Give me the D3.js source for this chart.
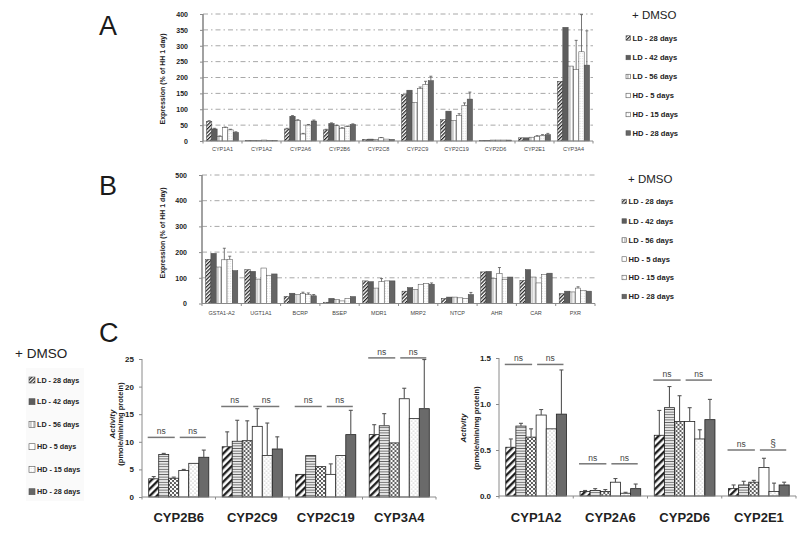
<!DOCTYPE html>
<html><head><meta charset="utf-8">
<script src="https://cdn.jsdelivr.net/npm/d3@7"></script>
<style>body{margin:0;background:#fff}svg{display:block}text{font-family:"Liberation Sans",Arial,sans-serif}</style>
</head><body><svg id="c" width="800" height="535"></svg>
<script>
// ---------------- DATA ----------------
const seriesNames = ["LD - 28 days","LD - 42 days","LD - 56 days","HD - 5 days","HD - 15 days","HD - 28 days"];

const genesA = ["CYP1A1","CYP1A2","CYP2A6","CYP2B6","CYP2C8","CYP2C9","CYP2C19","CYP2D6","CYP2E1","CYP3A4"];
const exprA = [
  [62,38,15,42,35,27],
  [2,1,1,3,2,1],
  [38,78,65,22,50,63],
  [35,55,48,40,45,52],
  [5,6,5,10,6,5],
  [146,160,122,165,178,190],
  [67,94,65,81,112,132],
  [2,2,3,3,3,3],
  [10,10,12,15,18,20],
  [188,358,236,225,281,239]
];
const errA = [
  [2,2,1,2,2,2],
  [0,0,0,0,0,0],
  [2,2,2,2,2,3],
  [2,2,2,2,2,2],
  [0,0,0,1,0,0],
  [0,0,0,5,10,14],
  [0,0,0,5,8,22],
  [0,0,0,0,0,0],
  [0,0,0,2,2,4],
  [0,0,0,92,117,108]
];
const ticksA = [0,50,100,150,200,250,300,350,400];

const genesB = ["GSTA1-A2","UGT1A1","BCRP","BSEP","MDR1","MRP2","NTCP","AHR","CAR","PXR"];
const exprB = [
  [172,195,142,170,172,128],
  [132,125,95,138,110,115],
  [28,40,35,38,35,30],
  [5,20,15,10,20,27],
  [88,85,60,85,88,88],
  [48,62,55,75,78,75],
  [20,25,25,22,20,35],
  [123,125,98,117,93,103],
  [90,132,103,80,113,118],
  [38,48,45,60,51,48]
];
const errB = [
  [0,0,0,45,12,0],
  [0,0,0,0,0,0],
  [0,0,0,6,6,5],
  [0,0,0,0,0,0],
  [0,0,0,12,0,0],
  [0,0,0,0,0,5],
  [0,0,0,0,0,8],
  [0,0,0,23,0,0],
  [0,0,0,0,0,0],
  [0,0,0,5,0,0]
];
const ticksB = [0,100,200,300,400,500];

const enzymesCL = ["CYP2B6","CYP2C9","CYP2C19","CYP3A4"];
const activityCL = [
  [3.3,7.7,3.4,4.8,6.1,7.2],
  [9.1,10.1,10.2,12.8,7.5,8.7],
  [4.1,7.5,5.5,4.1,7.5,11.3],
  [11.3,12.9,9.8,17.8,14.2,16.0]
];
const errCL = [
  [0.4,0.2,0.2,0.2,0,1.3],
  [2.7,3.8,3.6,3.2,5.9,2.2],
  [0,0,0,1.9,0,4.4],
  [1.8,2.2,0,1.9,0,8.9]
];
const ticksCL = [0,5,10,15,20,25];
const nsLevelCL = [10.8,16.4,16.4,25.2];
const nsTextCL = [["ns","ns"],["ns","ns"],["ns","ns"],["ns","ns"]];

const enzymesCR = ["CYP1A2","CYP2A6","CYP2D6","CYP2E1"];
const activityCR = [
  [0.53,0.76,0.64,0.88,0.73,0.89],
  [0.05,0.06,0.05,0.15,0.03,0.08],
  [0.66,0.96,0.81,0.81,0.62,0.83],
  [0.08,0.12,0.15,0.31,0.05,0.12]
];
const errCR = [
  [0.09,0.03,0.09,0.06,0,0.48],
  [0.01,0.02,0.02,0.04,0.01,0.05],
  [0.27,0.23,0.28,0.15,0.10,0.22],
  [0.04,0.04,0.02,0.10,0.09,0.03]
];
const ticksCR = [0,0.5,1.0,1.5];
const nsLevelCR = [1.43,0.35,1.26,0.50];
const nsTextCR = [["ns","ns"],["ns","ns"],["ns","ns"],["ns","§"]];

// ---------------- DRAW ----------------
const svg = d3.select("#c");
const defs = svg.append("defs");
function pat(id, w, h, build, tr){
  const p = defs.append("pattern").attr("id",id).attr("patternUnits","userSpaceOnUse")
    .attr("width",w).attr("height",h);
  if(tr) p.attr("patternTransform",tr);
  build(p, w, h);
}
const bg = (p,w,h,c)=>p.append("rect").attr("width",w).attr("height",h).attr("fill",c);
// small patterns
pat("sHatch",2.6,2.6,(p,w,h)=>{bg(p,w,h,"#fff");p.append("line").attr("x1",0.6).attr("x2",0.6).attr("y1",0).attr("y2",h).attr("stroke","#222").attr("stroke-width",1.3);},"rotate(45)");
pat("sDark",2,2,(p,w,h)=>{bg(p,w,h,"#4f4f4f");p.append("line").attr("x1",0).attr("x2",w).attr("y1",1).attr("y2",1).attr("stroke","#7d7d7d").attr("stroke-width",0.6);});
pat("sDash",3,2,(p,w,h)=>{bg(p,w,h,"#fff");p.append("line").attr("x1",0).attr("x2",1.8).attr("y1",1).attr("y2",1).attr("stroke","#777").attr("stroke-width",0.8);});
pat("sDots",2.5,2.5,(p,w,h)=>{bg(p,w,h,"#fff");p.append("circle").attr("cx",1).attr("cy",1).attr("r",0.4).attr("fill","#999");});
// large patterns
pat("lHatch",5,5,(p,w,h)=>{bg(p,w,h,"#fff");p.append("line").attr("x1",1.2).attr("x2",1.2).attr("y1",0).attr("y2",h).attr("stroke","#1a1a1a").attr("stroke-width",2.3);},"rotate(45)");
pat("lStripe",4,2.6,(p,w,h)=>{bg(p,w,h,"#fff");p.append("line").attr("x1",0).attr("x2",w).attr("y1",1.3).attr("y2",1.3).attr("stroke","#666").attr("stroke-width",1.1);});
pat("lCheck",4,4,(p,w,h)=>{bg(p,w,h,"#555");p.append("circle").attr("cx",1).attr("cy",1).attr("r",1.2).attr("fill","#fff");p.append("circle").attr("cx",3).attr("cy",3).attr("r",1.2).attr("fill","#fff");});
pat("lDots",4,4,(p,w,h)=>{bg(p,w,h,"#fff");p.append("circle").attr("cx",1).attr("cy",1).attr("r",0.55).attr("fill","#999");p.append("circle").attr("cx",3).attr("cy",3).attr("r",0.55).attr("fill","#999");});

const fillsS = ["url(#sHatch)","url(#sDark)","url(#sDash)","#fff","url(#sDots)","#666"];
const fillsL = ["url(#lHatch)","url(#lStripe)","url(#lCheck)","#fff","url(#lDots)","#6a6a6a"];

function barPanel(c){
  const g = svg.append("g");
  const x = d3.scaleBand().domain(c.cats).range([c.x0,c.x1]);
  const xs = d3.scaleBand().domain(d3.range(6)).range([0,x.bandwidth()]).paddingOuter(c.padOuter);
  const y = d3.scaleLinear().domain([0,c.max]).range([c.yb,c.yt]);
  if(c.grid){
    g.selectAll(".grid").data(c.ticks.filter(t=>t>0)).join("line")
      .attr("x1",c.x0).attr("x2",c.x1).attr("y1",d=>y(d)).attr("y2",d=>y(d))
      .attr("stroke","#a8a8a8").attr("stroke-width",1).attr("stroke-dasharray","5,3,1.5,3");
  }
  c.cats.forEach((cat,i)=>{
    const gg = g.append("g").attr("transform",`translate(${x(cat)},0)`);
    gg.selectAll("rect").data(c.vals[i]).join("rect")
      .attr("x",(d,j)=>xs(j)).attr("width",xs.bandwidth())
      .attr("y",d=>y(d)).attr("height",d=>c.yb-y(d))
      .attr("fill",(d,j)=>c.fills[j]).attr("stroke",c.barStroke).attr("stroke-width",c.barSW);
    c.vals[i].forEach((v,j)=>{
      const e = c.errs[i][j];
      if(e>0){
        const cx = xs(j)+xs.bandwidth()/2;
        gg.append("line").attr("x1",cx).attr("x2",cx).attr("y1",y(v)).attr("y2",y(v+e)).attr("stroke",c.errColor).attr("stroke-width",c.errSW);
        gg.append("line").attr("x1",cx-c.capW/2).attr("x2",cx+c.capW/2).attr("y1",y(v+e)).attr("y2",y(v+e)).attr("stroke",c.errColor).attr("stroke-width",c.errSW);
      }
    });
    if(c.ns){
      const lv = c.ns[i], yy = y(lv);
      const segs = [[xs(0)-1, xs(3)-4],[xs(3)+1, xs(5)+xs.bandwidth()-3]];
      segs.forEach((s,k)=>{
        gg.append("line").attr("x1",s[0]).attr("x2",s[1]).attr("y1",yy).attr("y2",yy).attr("stroke","#777").attr("stroke-width",1.5);
        gg.append("text").attr("x",(s[0]+s[1])/2).attr("y",yy-3).attr("text-anchor","middle")
          .attr("font-size",c.nsText[i][k]==="§"?10:8.5).attr("fill","#444").text(c.nsText[i][k]);
      });
    }
  });
  const ya = d3.axisLeft(y).tickValues(c.ticks).tickSize(3).tickPadding(c.tickPad).tickFormat(c.fmt);
  const ay = g.append("g").attr("transform",`translate(${c.x0},0)`).call(ya);
  ay.select(".domain").attr("stroke","#8a8a8a").attr("stroke-width",c.axisSW).attr("d",`M0,${c.yb}V${c.yt}`);
  ay.selectAll(".tick line").attr("stroke","#8a8a8a");
  ay.selectAll(".tick text").attr("font-size",c.tickFont).attr("font-weight","bold").attr("fill","#222")
    .attr("font-family","'Liberation Sans',Arial,sans-serif");
  g.append("line").attr("x1",c.x0).attr("x2",c.x1).attr("y1",c.yb).attr("y2",c.yb).attr("stroke","#8a8a8a").attr("stroke-width",1);
  const bounds = c.cats.map(d=>x(d)).concat([c.x1]);
  g.selectAll(".bt").data(bounds).join("line").attr("x1",d=>d).attr("x2",d=>d).attr("y1",c.yb).attr("y2",c.yb+2.5).attr("stroke","#8a8a8a");
  g.selectAll(".cl").data(c.cats).join("text")
    .attr("x",d=>x(d)+x.bandwidth()/2).attr("y",c.catY).attr("text-anchor","middle")
    .attr("font-size",c.catFont).attr("font-weight",c.catBold?"bold":"normal").attr("fill",c.catColor).text(d=>d);
  return {x,y};
}

function legend(c){
  const g = svg.append("g");
  g.append("text").attr("x",c.tx).attr("y",c.titleY).attr("font-size",c.titleSize).attr("fill","#222")
    .attr("font-family","'Open Sans','Liberation Sans',Arial,sans-serif").text("+ DMSO");
  seriesNames.forEach((s,i)=>{
    const yc = c.ys[i];
    g.append("rect").attr("x",c.bx).attr("y",yc-c.box/2).attr("width",c.box).attr("height",c.box)
      .attr("fill",fillsS[i]).attr("stroke","#555").attr("stroke-width",0.6);
    g.append("text").attr("x",c.bx+c.box+2).attr("y",yc).attr("dy","0.35em").attr("font-size",c.fs)
      .attr("font-weight","bold").attr("fill","#222").text(s);
  });
}

function letter(t,x,y){
  svg.append("text").attr("x",x).attr("y",y).attr("font-size",27).attr("fill","#1a1a1a")
    .attr("font-family","'Open Sans','Liberation Sans',sans-serif").text(t);
}
function ylabel(lines, xs, yc, fs, italicFirst){
  lines.forEach((t,i)=>{
    svg.append("text").attr("transform",`translate(${xs[i]},${yc}) rotate(-90)`).attr("text-anchor","middle")
      .attr("font-size",fs[i]).attr("font-weight","bold").attr("font-style",(italicFirst&&i===0)?"italic":"normal")
      .attr("fill","#222").text(t);
  });
}

// Panel A
letter("A",99,35);
barPanel({cats:genesA, vals:exprA, errs:errA, x0:203, x1:593, yb:141, yt:14, max:400, ticks:ticksA,
  fills:fillsS, grid:true, padOuter:0.65, barStroke:"#444", barSW:0.5, errColor:"#555", errSW:0.8, capW:3,
  tickPad:12, fmt:d3.format("d"), tickFont:7, axisSW:1.6, catY:151, catFont:5.5, catBold:false, catColor:"#444"});
ylabel(["Expression (% of HH 1 day)"],[165],79,[7]);
legend({tx:632,titleY:19,titleSize:11.5,bx:626,box:4.5,fs:7.6,ys:[38,57.5,76.5,95.5,114.5,133]});

// Panel B
letter("B",99,195);
barPanel({cats:genesB, vals:exprB, errs:errB, x0:202, x1:595, yb:303.5, yt:175, max:500, ticks:ticksB,
  fills:fillsS, grid:true, padOuter:0.65, barStroke:"#444", barSW:0.5, errColor:"#555", errSW:0.8, capW:3,
  tickPad:12, fmt:d3.format("d"), tickFont:7, axisSW:1.6, catY:315, catFont:5.5, catBold:false, catColor:"#444"});
ylabel(["Expression (% of HH 1 day)"],[165],233,[7]);
legend({tx:628,titleY:183,titleSize:11.5,bx:622,box:4.5,fs:7.6,ys:[201.5,221,240,259,277.5,296.5]});

// Panel C
letter("C",99,342);
barPanel({cats:enzymesCL, vals:activityCL, errs:errCL, x0:142, x1:436, yb:497, yt:359, max:25, ticks:ticksCL,
  fills:fillsL, grid:false, padOuter:0.67, barStroke:"#222", barSW:0.8, errColor:"#555", errSW:1.1, capW:4,
  tickPad:5, fmt:d3.format("d"), tickFont:8, axisSW:1, catY:522, catFont:13, catBold:true, catColor:"#222",
  ns:nsLevelCL, nsText:nsTextCL});
ylabel(["Activity","(pmole/min/mg protein)"],[115,123],424,[8,7.5],true);

barPanel({cats:enzymesCR, vals:activityCR, errs:errCR, x0:499, x1:796, yb:496, yt:358, max:1.5, ticks:ticksCR,
  fills:fillsL, grid:false, padOuter:0.67, barStroke:"#222", barSW:0.8, errColor:"#555", errSW:1.1, capW:4,
  tickPad:5, fmt:d3.format(".1f"), tickFont:8, axisSW:1, catY:522, catFont:13, catBold:true, catColor:"#222",
  ns:nsLevelCR, nsText:nsTextCR});
ylabel(["Activity","(pmole/min/mg protein)"],[466,479],428,[8,7.5],true);

svg.append("rect").attr("x",26).attr("y",368).attr("width",58).attr("height",133).attr("fill","#000").attr("opacity",0.02).lower();
legend({tx:15,titleY:358,titleSize:13.5,bx:29,box:6,fs:7.2,ys:[380,401.7,424.3,446.7,469.3,491.7]});
</script></body></html>
